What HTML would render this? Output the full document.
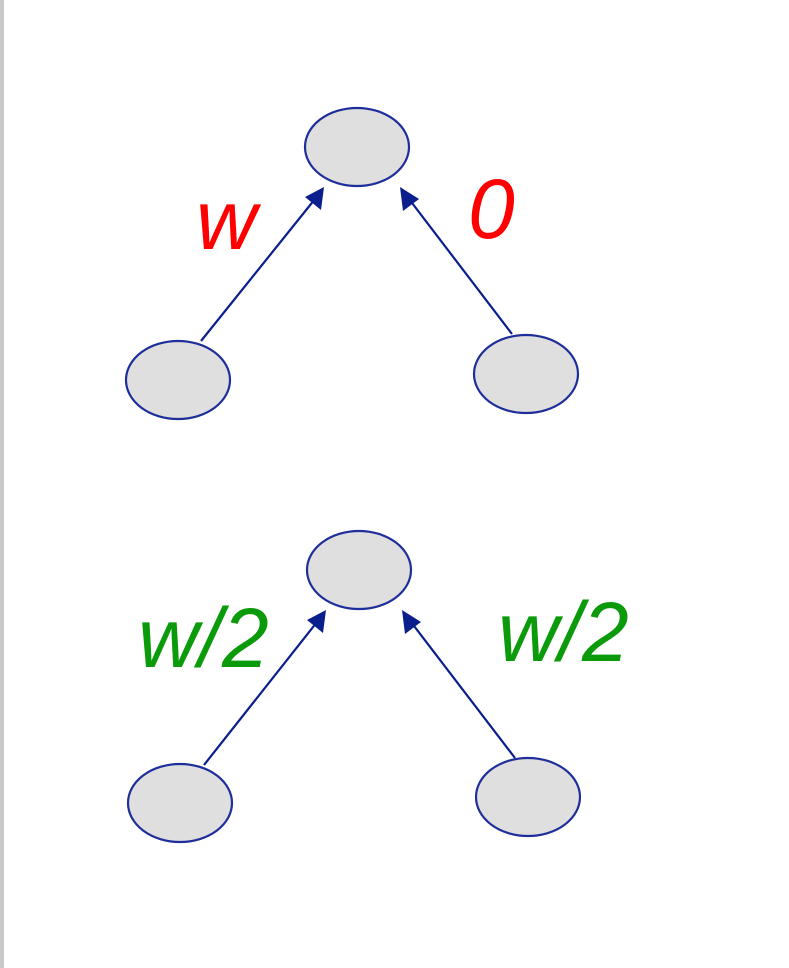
<!DOCTYPE html>
<html><head><style>
html,body{margin:0;padding:0;background:#fff;}
body{width:789px;height:968px;overflow:hidden;position:relative;}
</style></head><body>
<svg width="789" height="968" viewBox="0 0 789 968" xmlns="http://www.w3.org/2000/svg" style="position:absolute;left:0;top:0">
<rect x="0" y="0" width="4" height="968" fill="#c8c8c8"/>
<g fill="#dfdfdf" stroke="#1e2e9a" stroke-width="2.2">
<ellipse cx="357" cy="147" rx="52" ry="39"/>
<ellipse cx="178" cy="380" rx="52" ry="39"/>
<ellipse cx="526" cy="374" rx="52" ry="39"/>
<ellipse cx="359" cy="570" rx="52" ry="39"/>
<ellipse cx="180" cy="803" rx="52" ry="39"/>
<ellipse cx="528" cy="797" rx="52" ry="39"/>
</g>
<g stroke="#0a1e8c" stroke-width="2.2">
<line x1="201" y1="341" x2="315" y2="199"/>
<line x1="512" y1="334" x2="409" y2="199"/>
<line x1="204" y1="765" x2="317" y2="622"/>
<line x1="515" y1="758" x2="411" y2="622"/>
</g>
<g fill="#0a1e8c">
<polygon points="324,187 321,210 305,197"/>
<polygon points="400,187 419,199 403,211"/>
<polygon points="326,610 323,633 307,620"/>
<polygon points="402,610 421,622 405,634"/>
</g>
<g font-family="Liberation Sans, sans-serif" font-style="italic" font-size="84">
<text x="196" y="249" fill="#ff0000">w</text>
<text x="468" y="238" fill="#ff0000">0</text>
<text x="138" y="667" fill="#0a9a0a">w/2</text>
<text x="498" y="661" fill="#0a9a0a">w/2</text>
</g>
</svg>
</body></html>
